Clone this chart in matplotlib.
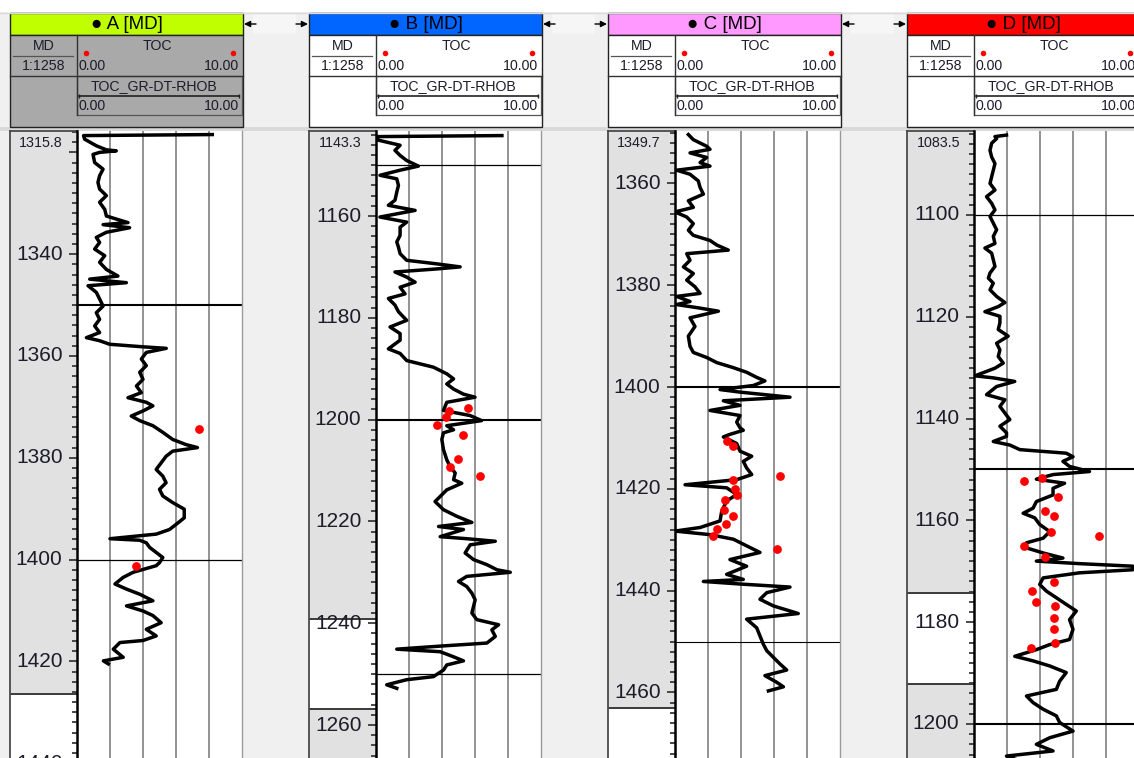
import numpy as np
import matplotlib
matplotlib.use("Agg")
import matplotlib.pyplot as plt
from matplotlib.patches import Rectangle

plt.rcParams['font.family'] = ['Liberation Sans', 'DejaVu Sans']

# ---------------- well header data ----------------
wells = ['A', 'B', 'C', 'D']
title_colors = ['#bfff00', '#0066ff', '#ff99ff', '#ff0000']
header_fills = ['#a9a9a9', 'white', 'white', 'white']
top_depths = [1315.8, 1143.3, 1349.7, 1083.5]
md_scale = '1:1258'
toc_min, toc_max = 0.0, 10.0

# ---------------- TOC_GR-DT-RHOB curves (depth m, TOC %) ----------------
a_depth = [1316.5, 1316.7, 1317.4, 1318.7, 1319.5, 1319.7, 1320.0, 1320.4, 1322.0, 1323.3,
           1324.6, 1325.9, 1327.2, 1328.5, 1329.8, 1331.2, 1332.5, 1333.8, 1334.2, 1334.8,
           1335.7, 1336.7, 1337.7, 1339.0, 1340.3, 1341.6, 1343.0, 1344.3, 1344.9, 1345.6,
           1346.2, 1347.5, 1348.8, 1350.2, 1351.5, 1352.8, 1354.1, 1355.4, 1356.4, 1357.0,
           1357.7, 1358.2, 1358.5, 1359.3, 1360.6, 1361.9, 1363.2, 1364.6, 1365.9, 1367.2,
           1368.2, 1369.1, 1369.8, 1370.8, 1371.8, 1372.7, 1373.7, 1375.0, 1376.4, 1377.4,
           1378.0, 1378.7, 1379.7, 1381.0, 1382.3, 1383.6, 1384.9, 1386.2, 1387.5, 1388.8,
           1390.1, 1391.8, 1393.1, 1394.1, 1395.0, 1395.9, 1396.2, 1396.7, 1397.6, 1398.6,
           1399.6, 1400.6, 1401.2, 1402.5, 1403.5, 1404.8, 1405.8, 1406.8, 1408.1, 1409.1,
           1410.1, 1411.0, 1412.4, 1413.7, 1415.0, 1415.9, 1416.3, 1417.6, 1419.2, 1419.9,
           1420.5]
a_toc = [8.2, 0.4, 0.46, 1.17, 1.78, 2.38, 1.37, 0.97, 1.07, 1.58,
         1.37, 1.27, 1.37, 1.78, 1.37, 1.68, 1.78, 3.09, 1.58, 3.19,
         1.78, 1.17, 1.37, 1.07, 1.68, 1.37, 1.78, 2.48, 0.77, 2.99,
         0.67, 1.17, 1.37, 1.58, 1.17, 1.37, 1.07, 1.37, 0.57, 1.37,
         1.98, 4.0, 5.41, 4.2, 3.9, 4.2, 3.8, 4.0, 3.6, 3.9,
         3.09, 4.2, 4.6, 4.0, 3.29, 3.8, 4.6, 5.2, 5.8, 6.6,
         7.3, 5.8, 5.4, 5.1, 4.8, 5.2, 5.4, 5.0, 5.2, 5.8,
         6.5, 6.5, 6.0, 5.6, 4.8, 2.0, 3.8, 4.2, 4.4, 4.8,
         5.2, 5.0, 4.8, 3.4, 2.8, 2.3, 3.0, 3.8, 4.6, 3.0,
         4.0, 4.6, 5.1, 4.2, 4.8, 4.0, 2.6, 2.2, 2.8, 1.6,
         1.9]

b_depth = [1144.2, 1144.4, 1145.1, 1146.1, 1147.1, 1148.1, 1149.1, 1150.2, 1151.0, 1152.0,
           1152.7, 1154.0, 1155.3, 1156.9, 1157.9, 1158.9, 1160.2, 1161.2, 1162.2, 1163.8,
           1165.1, 1166.1, 1167.4, 1168.7, 1169.4, 1170.0, 1170.4, 1171.0, 1172.0, 1173.0,
           1174.0, 1175.3, 1176.2, 1177.5, 1178.8, 1180.5, 1181.8, 1183.1, 1184.4, 1186.1,
           1187.0, 1188.4, 1189.7, 1191.0, 1192.0, 1193.0, 1194.0, 1195.0, 1195.6, 1196.6,
           1198.2, 1199.2, 1200.2, 1201.2, 1202.0, 1202.6, 1203.9, 1205.9, 1207.9, 1209.2,
           1210.5, 1211.8, 1212.5, 1213.8, 1215.1, 1216.1, 1217.7, 1219.0, 1220.2, 1221.0,
           1221.6, 1223.0, 1223.4, 1223.9, 1224.6, 1226.2, 1227.5, 1228.5, 1229.5, 1230.0,
           1230.8, 1231.8, 1232.8, 1234.1, 1235.4, 1236.7, 1238.0, 1239.3, 1240.3, 1241.3,
           1242.6, 1243.9, 1244.5, 1245.1, 1245.6, 1246.6, 1247.4, 1248.2, 1249.2, 1250.5,
           1251.1, 1252.1, 1252.8]
b_toc = [7.63, 0.04, 0.14, 1.46, 1.15, 1.46, 1.86, 2.57, 1.46, 0.24,
         1.26, 1.36, 1.26, 1.15, 0.75, 2.37, 0.24, 1.86, 1.46, 1.46,
         1.26, 1.36, 1.46, 1.86, 3.68, 5.1, 3.68, 1.15, 1.86, 2.37,
         1.46, 1.76, 0.75, 1.15, 1.36, 1.86, 0.85, 1.46, 1.46, 0.75,
         1.46, 1.86, 3.48, 4.29, 4.7, 4.29, 4.7, 5.3, 6.0, 4.29,
         4.09, 5.7, 6.4, 4.29, 4.7, 4.09, 3.99, 4.09, 4.29, 4.49,
         4.8, 4.7, 5.2, 4.29, 3.89, 3.58, 4.09, 4.9, 5.81, 3.79,
         5.3, 3.89, 5.5, 7.23, 5.71, 5.4, 5.91, 6.72, 7.33, 8.14,
         5.5, 5.0, 5.5, 5.81, 6.01, 5.91, 5.81, 6.11, 7.43, 7.02,
         7.23, 6.72, 3.89, 1.26, 3.89, 4.7, 5.3, 4.29, 4.09, 3.48,
         1.86, 0.65, 1.26]

c_depth = [1350.4, 1351.4, 1352.7, 1353.3, 1354.0, 1354.9, 1355.9, 1356.6, 1357.4, 1358.2,
           1359.5, 1360.8, 1362.1, 1363.4, 1364.7, 1365.6, 1366.6, 1367.9, 1369.2, 1370.2,
           1371.2, 1372.1, 1373.1, 1373.8, 1375.1, 1376.4, 1377.7, 1379.0, 1380.3, 1381.6,
           1382.2, 1383.2, 1383.8, 1384.5, 1385.1, 1386.4, 1388.1, 1390.0, 1392.0, 1393.2,
           1394.2, 1395.2, 1396.2, 1397.1, 1398.1, 1398.8, 1399.7, 1400.5, 1401.0, 1402.0,
           1402.7, 1403.6, 1404.6, 1405.6, 1406.9, 1408.0, 1408.5, 1409.3, 1409.8, 1411.1,
           1412.6, 1413.6, 1414.6, 1415.9, 1417.2, 1418.2, 1419.2, 1419.8, 1421.1, 1422.4,
           1424.4, 1426.3, 1427.6, 1428.3, 1429.0, 1429.9, 1431.2, 1432.5, 1433.9, 1435.2,
           1436.8, 1437.8, 1438.2, 1438.7, 1439.3, 1440.4, 1441.7, 1443.0, 1444.5, 1445.6,
           1447.3, 1448.9, 1450.5, 1451.8, 1453.1, 1454.4, 1455.6, 1456.7, 1458.0, 1458.9,
           1459.7]
c_toc = [0.81, 1.11, 1.92, 2.12, 0.91, 1.92, 1.52, 2.12, 0.1, 0.91,
         1.41, 1.52, 1.72, 0.81, 1.11, 0.0, 0.71, 1.11, 0.81, 1.11,
         2.12, 2.53, 3.23, 0.71, 0.91, 0.51, 1.11, 0.71, 1.21, 1.52,
         0.1, 0.91, 0.1, 1.52, 2.63, 0.91, 1.21, 0.81, 0.91, 1.11,
         1.92, 2.53, 3.54, 4.34, 4.95, 5.45, 4.75, 2.73, 3.94, 6.97,
         2.93, 3.94, 2.12, 3.94, 3.74, 3.94, 4.14, 3.33, 2.93, 3.74,
         3.94, 4.65, 4.14, 4.34, 4.65, 3.74, 0.61, 3.13, 3.74, 3.13,
         2.83, 2.73, 1.52, 0.0, 2.12, 3.54, 4.34, 5.15, 3.33, 4.34,
         3.13, 4.14, 1.72, 3.94, 6.97, 5.56, 5.15, 5.96, 7.47, 4.34,
         4.95, 5.15, 5.35, 5.56, 5.96, 6.36, 6.77, 5.45, 6.16, 6.57,
         5.66]

d_depth = [1084.3, 1084.6, 1085.0, 1085.9, 1087.3, 1088.6, 1089.9, 1091.2, 1092.5, 1093.8,
           1095.1, 1096.4, 1097.7, 1099.0, 1100.3, 1101.6, 1102.9, 1104.2, 1105.6, 1106.5,
           1107.5, 1108.8, 1110.1, 1111.4, 1112.4, 1113.4, 1114.7, 1116.0, 1117.2, 1118.0,
           1119.0, 1119.9, 1121.2, 1122.5, 1123.8, 1125.2, 1126.5, 1127.8, 1129.1, 1130.1,
           1131.6, 1132.0, 1132.7, 1133.7, 1135.3, 1136.3, 1137.6, 1138.9, 1140.2, 1141.5,
           1142.8, 1143.5, 1144.5, 1145.2, 1146.1, 1146.8, 1147.5, 1148.4, 1149.4, 1150.4,
           1151.0, 1151.9, 1152.7, 1153.7, 1155.0, 1156.3, 1157.6, 1158.6, 1159.5, 1160.8,
           1162.2, 1163.5, 1164.4, 1165.4, 1166.4, 1167.4, 1168.0, 1168.5, 1169.0, 1169.7,
           1170.3, 1171.3, 1172.6, 1173.9, 1175.2, 1176.5, 1177.8, 1179.5, 1181.4, 1183.4,
           1184.4, 1185.4, 1186.7, 1187.6, 1188.6, 1189.9, 1191.6, 1193.2, 1194.5, 1195.8,
           1197.1, 1198.4, 1199.7, 1201.4, 1202.7, 1204.0, 1205.3, 1206.3, 1207.5]
d_toc = [1.97, 1.27, 1.37, 1.07, 0.97, 1.07, 1.27, 1.17, 1.07, 0.97,
         1.27, 0.76, 1.07, 1.27, 0.97, 1.17, 1.37, 1.17, 1.27, 0.66,
         1.07, 1.17, 1.27, 0.97, 0.87, 1.17, 0.97, 1.37, 1.87, 1.47,
         0.66, 1.57, 1.57, 1.47, 2.07, 1.37, 1.57, 1.47, 1.77, 1.27,
         0.06, 1.17, 2.47, 1.37, 0.76, 1.87, 1.57, 1.87, 2.17, 1.57,
         1.97, 1.97, 1.17, 2.17, 2.78, 5.59, 6.0, 5.39, 5.79, 7.0,
         4.79, 3.78, 5.49, 4.79, 4.79, 3.78, 3.58, 2.98, 3.68, 3.98,
         4.59, 4.19, 3.18, 3.18, 4.19, 5.39, 3.78, 6.4, 9.62, 9.62,
         6.4, 4.19, 3.98, 4.39, 4.99, 5.59, 6.2, 5.79, 6.0, 5.79,
         4.59, 3.78, 2.47, 3.58, 4.59, 5.59, 5.19, 4.99, 3.18, 3.58,
         4.19, 4.99, 5.19, 6.0, 4.59, 3.78, 4.79, 1.97, 3.0]

# ---------------- measured TOC samples ----------------
a_core_depth = [1374.4, 1401.2]
a_core_toc = [7.4, 3.6]
b_core_depth = [1197.7, 1198.4, 1199.4, 1201.1, 1203.1, 1207.7, 1209.3, 1211.0]
b_core_toc = [5.6, 4.43, 4.23, 3.68, 5.26, 4.96, 4.5, 6.32]
c_core_depth = [1410.7, 1411.6, 1417.4, 1418.2, 1420.1, 1421.3, 1422.1, 1424.1, 1425.4,
                1427.0, 1427.8, 1429.3, 1431.9]
c_core_toc = [3.13, 3.54, 6.36, 3.54, 3.64, 3.74, 3.03, 2.97, 3.5, 3.09, 2.57, 2.28, 6.16]
d_core_depth = [1151.7, 1152.2, 1155.5, 1158.2, 1159.1, 1162.2, 1163.1, 1165.1, 1167.1,
                1172.1, 1173.9, 1176.0, 1176.9, 1179.2, 1181.4, 1184.1, 1185.0]
d_core_toc = [4.14, 3.04, 5.09, 4.33, 4.83, 4.69, 7.6, 3.04, 4.29,
              4.83, 3.54, 3.74, 4.89, 4.85, 4.85, 4.89, 3.44]

# ---------------- zone markers and depth-track shading ----------------
a_tops = [1350, 1400]
a_top_widths = [1.5, 0.9]
b_tops = [1150, 1200, 1250]
b_top_widths = [0.9, 1.5, 0.9]
c_tops = [1400, 1450]
c_top_widths = [1.5, 0.8]
d_tops = [1100, 1150, 1200]
d_top_widths = [0.9, 1.5, 1.5]

a_shade = [(1315.8, 1426.4)]
b_shade = [(1143.3, 1239.2), (1256.8, 1300.0)]
c_shade = [(1349.7, 1463.0)]
d_shade = [(1083.5, 1174.3), (1192.1, 1250.0)]

curves = [(a_depth, a_toc), (b_depth, b_toc), (c_depth, c_toc), (d_depth, d_toc)]
cores = [(a_core_depth, a_core_toc), (b_core_depth, b_core_toc),
         (c_core_depth, c_core_toc), (d_core_depth, d_core_toc)]
tops = [(a_tops, a_top_widths), (b_tops, b_top_widths),
        (c_tops, c_top_widths), (d_tops, d_top_widths)]
shades = [a_shade, b_shade, c_shade, d_shade]

# ---------------- figure layout (pixel units) ----------------
W, H = 1134, 758
PX_PER_M = 5.09
PANEL_TOP = 131
PANEL_SPAN = (H - PANEL_TOP) / PX_PER_M
WELL_X0 = 10
WELL_STEP = 299
DEPTH_W = 67
TRACK_W = 165
HEAD_W = DEPTH_W + TRACK_W + 1
TEXT = '#1c1c2a'
HFS = 10.2   # header font size

fig = plt.figure(figsize=(W / 100, H / 100), dpi=100)
fig.patch.set_facecolor('#f0f0f0')


def px_axes(x0, y0, x1, y1, **kw):
    return fig.add_axes([x0 / W, 1 - y1 / H, (x1 - x0) / W, (y1 - y0) / H], **kw)


bg = px_axes(0, 0, W, H)
bg.set_xlim(0, W)
bg.set_ylim(H, 0)
bg.axis('off')
bg.add_patch(Rectangle((0, 0), W, 12, color='white', lw=0))
bg.plot([0, W], [12.5, 12.5], color='#dadada', lw=1)
bg.add_patch(Rectangle((0, 127), W, 4, color='#d9d9d9', lw=0))


def draw_header(i):
    x0 = WELL_X0 + WELL_STEP * i
    x1 = x0 + HEAD_W
    xm = x0 + DEPTH_W
    # title bar
    bg.add_patch(Rectangle((x0, 13), HEAD_W, 22, facecolor=title_colors[i],
                           edgecolor='#222222', lw=1))
    bg.text(x0 + HEAD_W / 2, 24.5, f'\u25cf {wells[i]} [MD]', ha='center', va='center',
            fontsize=13.5, color='black')
    # body
    bg.add_patch(Rectangle((x0, 35), HEAD_W, 92, facecolor=header_fills[i],
                           edgecolor='#222222', lw=1))
    bg.plot([x0, x1], [76, 76], color='#333333', lw=1)
    bg.plot([xm, xm], [35, 115], color='#333333', lw=1)
    bg.add_patch(Rectangle((xm, 76), x1 - xm - 1, 39, facecolor='none',
                           edgecolor='#555555', lw=0.9))
    # MD cell
    bg.text(x0 + DEPTH_W / 2, 46, 'MD', ha='center', va='center', fontsize=HFS, color=TEXT)
    bg.plot([x0 + 3, xm - 4], [55.5, 55.5], color='#555555', lw=0.9)
    bg.text(x0 + DEPTH_W / 2, 65.5, md_scale, ha='center', va='center', fontsize=HFS, color=TEXT)
    # TOC samples legend
    bg.text(xm + 80, 45.5, 'TOC', ha='center', va='center', fontsize=HFS, color=TEXT)
    bg.plot([xm + 9, x1 - 10], [53, 53], 'o', color='#ff0000', ms=4, mec='none')
    bg.text(xm + 1.5, 65.5, f'{toc_min:.2f}', ha='left', va='center', fontsize=HFS, color=TEXT)
    bg.text(x1 - 4, 65.5, f'{toc_max:.2f}', ha='right', va='center', fontsize=HFS, color=TEXT)
    # curve legend
    bg.text(xm + 77, 86, 'TOC_GR-DT-RHOB', ha='center', va='center', fontsize=HFS, color=TEXT)
    bg.plot([xm + 2, x1 - 4], [96, 96], color='#222222', lw=1.2, marker='|',
            ms=3, mew=1, markevery=[0, 1])
    bg.text(xm + 1.5, 106, f'{toc_min:.2f}', ha='left', va='center', fontsize=HFS, color=TEXT)
    bg.text(x1 - 4, 106, f'{toc_max:.2f}', ha='right', va='center', fontsize=HFS, color=TEXT)
    # link arrows to the next well
    if i < len(wells) - 1:
        nx = WELL_X0 + WELL_STEP * (i + 1)
        bg.add_patch(Rectangle((x1 + 10, 13), nx - x1 - 23, 21, color='#f6f6f6', lw=0))
        bg.annotate('', xy=(x1 + 1, 24), xytext=(x1 + 13, 24),
                    arrowprops=dict(arrowstyle='-|>', color='black', lw=1.0,
                                    mutation_scale=9, shrinkA=0, shrinkB=0))
        bg.annotate('', xy=(nx - 1, 24), xytext=(nx - 13, 24),
                    arrowprops=dict(arrowstyle='-|>', color='black', lw=1.0,
                                    mutation_scale=9, shrinkA=0, shrinkB=0))


def draw_depth_track(ax, top, bottom, shade):
    ax.set_xlim(0, DEPTH_W)
    ax.set_ylim(bottom, top)
    ax.set_facecolor('white')
    for s0, s1 in shade:
        ax.axhspan(s0, s1, color='#e1e1e1', lw=0)
        for b in (s0, s1):
            if top + 0.5 < b < bottom:
                ax.axhline(b, color='#3a3a3a', lw=1.4)
    first = int(np.ceil(top / 2.0) * 2)
    for d in range(first, int(bottom) + 3, 2):
        length = 8 if d % 20 == 0 else 5
        ax.plot([DEPTH_W - length, DEPTH_W], [d, d], color='#3a3a3a', lw=1.3,
                solid_capstyle='butt')
        if d % 20 == 0 and d - top > 8:
            ax.text(52.5, d, str(d), ha='right', va='center', fontsize=15, color=TEXT)
    ax.text(53, top + 2.4, f'{top:.1f}', ha='right', va='center', fontsize=10.3, color=TEXT)
    ax.set_xticks([])
    ax.set_yticks([])
    for side in ('right', 'bottom'):
        ax.spines[side].set_visible(False)
    for side in ('left', 'top'):
        ax.spines[side].set_color('#4a4a4a')
        ax.spines[side].set_linewidth(1.3)


def draw_track(ax, top, bottom, depth, toc, core, zone_tops):
    ax.set_xlim(toc_min, toc_max)
    ax.set_ylim(bottom, top)
    ax.set_facecolor('white')
    for g in (2, 4, 6, 8):
        ax.axvline(g, color='#8a8a8a', lw=1.3, zorder=1)
    for d, lw in zip(*zone_tops):
        ax.axhline(d, color='black', lw=lw, zorder=2)
    ax.plot(toc, depth, color='black', lw=2.5, zorder=3)
    ax.plot(core[1], core[0], 'o', color='#ff0000', ms=6.3, mec='none', zorder=4)
    ax.set_xticks([])
    ax.set_yticks([])
    ax.spines['top'].set_visible(False)
    ax.spines['bottom'].set_visible(False)
    ax.spines['left'].set_color('black')
    ax.spines['left'].set_linewidth(1.8)
    ax.spines['right'].set_color('#9a9a9a')
    ax.spines['right'].set_linewidth(1.0)


for i in range(len(wells)):
    draw_header(i)
    x0 = WELL_X0 + WELL_STEP * i
    top = top_depths[i]
    bottom = top + PANEL_SPAN
    dax = px_axes(x0, PANEL_TOP, x0 + DEPTH_W, H)
    draw_depth_track(dax, top, bottom, shades[i])
    tax = px_axes(x0 + DEPTH_W, PANEL_TOP, x0 + DEPTH_W + TRACK_W, H)
    draw_track(tax, top, bottom, curves[i][0], curves[i][1], cores[i], tops[i])

fig.savefig('out.png', dpi=100, facecolor=fig.get_facecolor())
